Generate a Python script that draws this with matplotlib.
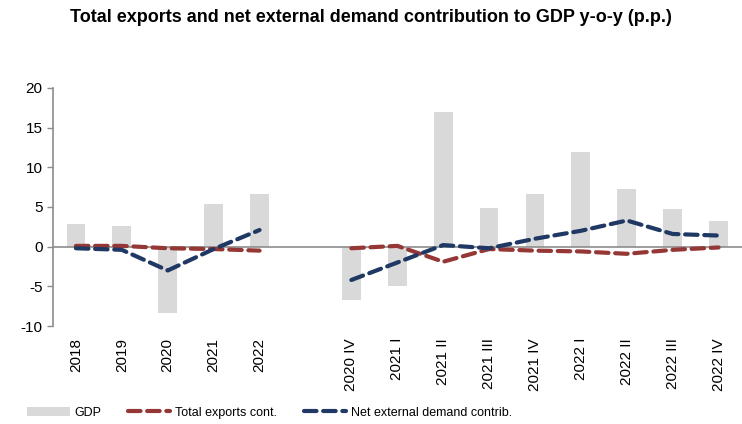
import numpy as np
import matplotlib
matplotlib.use("Agg")
import matplotlib.pyplot as plt
from matplotlib.patches import Patch
from matplotlib.lines import Line2D

plt.rcParams['font.family'] = ['Liberation Sans', 'DejaVu Sans']
plt.rcParams['axes.unicode_minus'] = False

# annual block
years = ['2018', '2019', '2020', '2021', '2022']
gdp_y = [2.8, 2.6, -8.3, 5.4, 6.7]
exp_y = [0.1, 0.1, -0.2, -0.3, -0.5]
net_y = [-0.2, -0.4, -3.0, -0.3, 2.1]

# quarterly block
quarters = ['2020 IV', '2021 I', '2021 II', '2021 III', '2021 IV',
            '2022 I', '2022 II', '2022 III', '2022 IV']
gdp_q = [-6.7, -4.9, 17.0, 4.9, 6.6, 11.9, 7.3, 4.8, 3.2]
exp_q = [-0.2, 0.1, -1.9, -0.3, -0.5, -0.6, -0.9, -0.4, -0.1]
net_q = [-4.2, -2.0, 0.2, -0.2, 1.0, 2.0, 3.3, 1.6, 1.4]

bar_col = '#d9d9d9'
red = '#953735'
blue = '#1f3864'

x_y = np.arange(len(years))
x_q = np.arange(len(quarters)) + len(years) + 1

fig = plt.figure(figsize=(7.42, 4.24), dpi=100)
ax = fig.add_axes([0.0714, 0.2311, 0.928, 0.5614])

bw = 0.41
ax.bar(x_y, gdp_y, width=bw, color=bar_col, zorder=1)
ax.bar(x_q, gdp_q, width=bw, color=bar_col, zorder=1)
ax.axhline(0, color='#8c8c8c', lw=1.2, zorder=2)

lw = 3.0
dash = (0, (3.0, 1.6))
for xs, ys in [(x_y, exp_y), (x_q, exp_q)]:
    ax.plot(xs, ys, color=red, lw=lw, linestyle=dash, dash_capstyle='round', zorder=3)
for xs, ys in [(x_y, net_y), (x_q, net_q)]:
    ax.plot(xs, ys, color=blue, lw=lw, linestyle=dash, dash_capstyle='round', zorder=4)

ax.set_xlim(-0.5, len(years) + len(quarters) + 0.5)
ax.set_ylim(-10, 20)
ax.set_yticks([-10, -5, 0, 5, 10, 15, 20])
ax.set_xticks(list(x_y) + list(x_q))
ax.set_xticklabels(years + quarters, rotation=90, fontsize=11,
                   ha='center', va='top')
ax.tick_params(axis='y', labelsize=11, length=4, color='#8c8c8c', width=1)
ax.tick_params(axis='x', length=0, pad=8.6)
for s in ['top', 'right', 'bottom']:
    ax.spines[s].set_visible(False)
ax.spines['left'].set_color('#8c8c8c')
ax.spines['left'].set_linewidth(1.2)

fig.text(0.5, 0.958, 'Total exports and net external demand contribution to GDP y-o-y (p.p.)',
         ha='center', va='center', fontsize=13.0, fontweight='bold')

handles = [Patch(facecolor=bar_col, edgecolor='none'),
           Line2D([], [], color=red, lw=lw, linestyle=dash, dash_capstyle='round'),
           Line2D([], [], color=blue, lw=lw, linestyle=dash, dash_capstyle='round')]
labels = ['GDP', 'Total exports cont.', 'Net external demand contrib.']
fig.legend(handles, labels, loc='center left', bbox_to_anchor=(27 / 742, 0.026), ncol=3,
           frameon=False, handlelength=3.4, handleheight=0.8, fontsize=9,
           columnspacing=2.1, handletextpad=0.4, borderpad=0, borderaxespad=0)

fig.savefig('out.png', dpi=100)
